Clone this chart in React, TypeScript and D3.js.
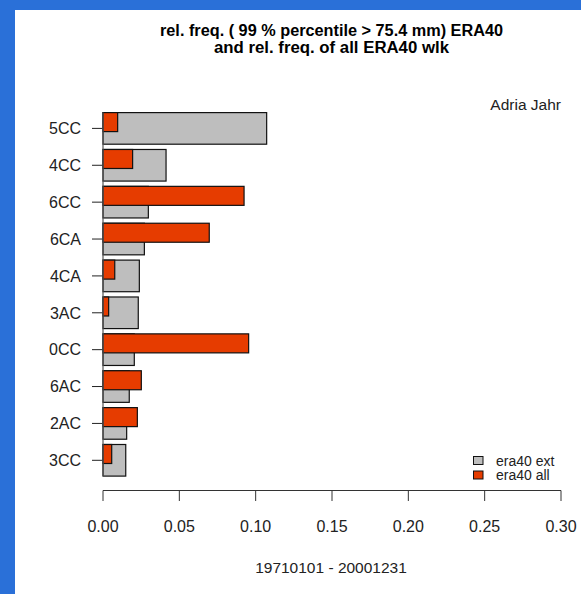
import React from "react";
import * as d3 from "d3";

const categories = ["5CC", "4CC", "6CC", "6CA", "4CA", "3AC", "0CC", "6AC", "2AC", "3CC"];
const extValues = [0.1072, 0.0413, 0.0297, 0.0271, 0.0238, 0.0231, 0.0205, 0.0172, 0.0155, 0.0149];
const allValues = [0.0096, 0.0194, 0.0924, 0.0696, 0.0077, 0.0037, 0.0954, 0.0251, 0.0225, 0.0057];
const xTicks = [0, 0.05, 0.1, 0.15, 0.2, 0.25, 0.3];
const titleLines = ["rel. freq. ( 99 % percentile > 75.4 mm) ERA40", "and rel. freq. of all ERA40 wlk"];
const titleWidths = [343, 235];
const legendLabels = ["era40 ext", "era40 all"];

const W = 581;
const H = 594;
const FONT = "'Liberation Sans', Arial, Helvetica, sans-serif";
const GREY = "#bebebe";
const RED = "#e63c00";

export default function App() {
  const x = d3.scaleLinear().domain([0, 0.3]).range([103, 561]);
  const y = d3.scalePoint<string>().domain(categories).range([128.4, 460.3]);
  const extH = 31.6;
  const allH = 19;

  return (
    <svg width={W} height={H} style={{ position: "absolute", left: 0, top: 0 }}>
      <rect x={0} y={0} width={W} height={H} fill="#2a70d8" />
      <rect x={15} y={10} width={W - 15} height={H - 10} fill="#ffffff" />
      <g fontFamily={FONT}>
        {titleLines.map((t, i) => (
          <text key={i} x={331.5} y={35.5 + i * 17.5} textAnchor="middle" fontWeight="bold" fontSize={15.8}
            textLength={titleWidths[i]} lengthAdjust="spacingAndGlyphs" fill="#000">
            {t}
          </text>
        ))}
        <text x={561} y={109.5} textAnchor="end" fontSize={15.5} fill="#222">Adria Jahr</text>

        {categories.map((c, i) => {
          const yc = y(c)!;
          return (
            <g key={c}>
              <rect x={x(0)} y={yc - extH / 2} width={x(extValues[i]) - x(0)} height={extH}
                fill={GREY} stroke="#111" strokeWidth={1.2} />
              <rect x={x(0)} y={yc - extH / 2} width={x(allValues[i]) - x(0)} height={allH}
                fill={RED} stroke="#111" strokeWidth={1.2} />
              <line x1={92} x2={103} y1={yc} y2={yc} stroke="#222" strokeWidth={1} />
              <text x={81} y={yc} dy="0.36em" textAnchor="end" fontSize={16} fill="#222">{c}</text>
            </g>
          );
        })}
        <line x1={103} x2={103} y1={y(categories[0])! - extH / 2} y2={y(categories[categories.length - 1])! + extH / 2}
          stroke="#555" strokeWidth={1.2} />

        <line x1={x(0)} x2={x(0.3)} y1={490.5} y2={490.5} stroke="#333" strokeWidth={1} />
        {xTicks.map((t) => (
          <g key={t}>
            <line x1={x(t)} x2={x(t)} y1={490.5} y2={501} stroke="#333" strokeWidth={1} />
            <text x={x(t)} y={526} dy="0.36em" textAnchor="middle" fontSize={16} fill="#222">
              {d3.format(".2f")(t)}
            </text>
          </g>
        ))}
        <text x={331} y={567} dy="0.36em" textAnchor="middle" fontSize={15.5} fill="#222">19710101 - 20001231</text>

        {legendLabels.map((l, i) => (
          <g key={l}>
            <rect x={473.5} y={456.5 + i * 14.5} width={9.5} height={8} fill={i === 0 ? GREY : RED} stroke="#111" strokeWidth={1} />
            <text x={496} y={460.5 + i * 14.5} dy="0.36em" fontSize={14} fill="#222">{l}</text>
          </g>
        ))}
      </g>
    </svg>
  );
}
